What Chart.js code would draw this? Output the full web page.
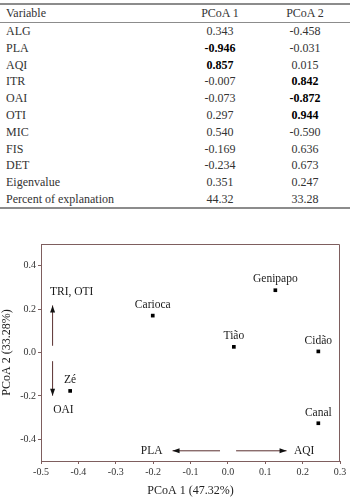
<!DOCTYPE html>
<html>
<head>
<meta charset="utf-8">
<script src="https://cdn.jsdelivr.net/npm/chart.js@4"></script>
<style>
  body { margin: 0; background: #fff; width: 350px; height: 498px; overflow: hidden; position: relative; }
  #tbl { position: absolute; left: 0; top: 0; width: 350px; font-family: "Liberation Serif", "Times New Roman", serif; font-size: 12px; color: #333; }
  .rule { position: absolute; left: 0; width: 350px; background: #8c8c8c; }
  .row { position: absolute; left: 0; width: 350px; height: 17px; line-height: 17px; }
  .row span { position: absolute; white-space: nowrap; }
  .c0 { left: 6px; }
  .c1 { left: 180px; width: 80px; text-align: center; }
  .c2 { left: 265px; width: 80px; text-align: center; }
  b { color: #000; }
  #wrap { position: absolute; left: 0; top: 230px; width: 350px; height: 268px; }
</style>
</head>
<body>
<div id="tbl"></div>
<div id="wrap"><canvas id="chart"></canvas></div>
<script>
// table data
const variables = ['ALG', 'PLA', 'AQI', 'ITR', 'OAI', 'OTI', 'MIC', 'FIS', 'DET', 'Eigenvalue', 'Percent of explanation'];
const pcoa1 = ['0.343', '-0.946', '0.857', '-0.007', '-0.073', '0.297', '0.540', '-0.169', '-0.234', '0.351', '44.32'];
const pcoa2 = ['-0.458', '-0.031', '0.015', '0.842', '-0.872', '0.944', '-0.590', '0.636', '0.673', '0.247', '33.28'];
const bold1 = [false, true, true, false, false, false, false, false, false, false, false];
const bold2 = [false, false, false, true, true, true, false, false, false, false, false];

// scatter data
const sites = ['Carioca', 'Genipapo', 'Tião', 'Cidão', 'Zé', 'Canal'];
const siteX = [-0.201, 0.127, 0.016, 0.242, -0.422, 0.242];
const siteY = [0.170, 0.287, 0.026, 0.005, -0.177, -0.326];

// arrows and their labels
const arrowLabels = ['TRI, OTI', 'OAI', 'PLA', 'AQI'];
const arrowFrom = [[-0.469, 0.031], [-0.469, -0.040], [-0.021, -0.453], [0.022, -0.453]];
const arrowTo = [[-0.469, 0.217], [-0.469, -0.199], [-0.148, -0.453], [0.157, -0.453]];
const labelAt = [[-0.418, 0.280], [-0.440, -0.264], [-0.204, -0.453], [0.204, -0.453]];

const xTicks = [-0.5, -0.4, -0.3, -0.2, -0.1, 0.0, 0.1, 0.2, 0.3];
const yTicks = [-0.4, -0.2, 0.0, 0.2, 0.4];

// build table
const tbl = document.getElementById('tbl');
function rule(top, h) {
  const d = document.createElement('div');
  d.className = 'rule';
  d.style.top = top + 'px';
  d.style.height = h + 'px';
  tbl.appendChild(d);
}
function row(top, a, b, c) {
  const d = document.createElement('div');
  d.className = 'row';
  d.style.top = top + 'px';
  d.innerHTML = '<span class="c0">' + a + '</span><span class="c1">' + b + '</span><span class="c2">' + c + '</span>';
  tbl.appendChild(d);
}
rule(3, 2);
row(5, 'Variable', 'PCoA 1', 'PCoA 2');
rule(22, 1);
variables.forEach((v, i) => {
  const a = bold1[i] ? '<b>' + pcoa1[i] + '</b>' : pcoa1[i];
  const b = bold2[i] ? '<b>' + pcoa2[i] + '</b>' : pcoa2[i];
  row(23 + i * 16.8, v, a, b);
});
rule(207, 2);

const serif = '"Liberation Serif", "Times New Roman", serif';
const frame = '#7e5e5e';

const annot = {
  id: 'annot',
  afterDatasetsDraw(chart) {
    const { ctx, scales: { x, y } } = chart;
    ctx.save();
    ctx.font = '11.5px ' + serif;
    ctx.fillStyle = '#1a1a1a';
    ctx.textAlign = 'center';
    ctx.textBaseline = 'bottom';
    sites.forEach((s, i) => {
      ctx.fillText(s, x.getPixelForValue(siteX[i]), y.getPixelForValue(siteY[i]) - 5);
    });
    // arrows
    arrowFrom.forEach((f, i) => {
      const x1 = x.getPixelForValue(f[0]), y1 = y.getPixelForValue(f[1]);
      const x2 = x.getPixelForValue(arrowTo[i][0]), y2 = y.getPixelForValue(arrowTo[i][1]);
      ctx.strokeStyle = '#5a3030';
      ctx.lineWidth = 1;
      ctx.beginPath();
      ctx.moveTo(x1, y1);
      ctx.lineTo(x2, y2);
      ctx.stroke();
      const ang = Math.atan2(y2 - y1, x2 - x1);
      ctx.fillStyle = '#111';
      ctx.beginPath();
      ctx.moveTo(x2, y2);
      ctx.lineTo(x2 - 7 * Math.cos(ang) + 2.5 * Math.sin(ang), y2 - 7 * Math.sin(ang) - 2.5 * Math.cos(ang));
      ctx.lineTo(x2 - 7 * Math.cos(ang) - 2.5 * Math.sin(ang), y2 - 7 * Math.sin(ang) + 2.5 * Math.cos(ang));
      ctx.closePath();
      ctx.fill();
    });
    ctx.fillStyle = '#1a1a1a';
    ctx.textBaseline = 'middle';
    arrowLabels.forEach((l, i) => {
      ctx.fillText(l, x.getPixelForValue(labelAt[i][0]), y.getPixelForValue(labelAt[i][1]));
    });
    ctx.restore();
  }
};

const ctx = document.getElementById('chart').getContext('2d');
const chart = new Chart(ctx, {
  type: 'scatter',
  data: {
    datasets: [{
      label: 'Sites',
      data: sites.map((s, i) => ({ x: siteX[i], y: siteY[i] })),
      pointStyle: 'rect',
      pointRadius: 2.6,
      backgroundColor: '#000',
      borderColor: '#000',
      borderWidth: 0
    }]
  },
  options: {
    responsive: true,
    maintainAspectRatio: false,
    animation: false,
    layout: { padding: { top: 14, right: 10, left: 0, bottom: 0 } },
    plugins: { legend: { display: false }, tooltip: { enabled: false } },
    scales: {
      x: {
        min: -0.5, max: 0.3,
        afterBuildTicks: s => { s.ticks = xTicks.map(v => ({ value: v })); },
        afterFit: s => { s.height = 37; },
        grid: { display: true, drawOnChartArea: false, drawTicks: true, tickLength: 3, color: frame },
        border: { color: frame, width: 1 },
        ticks: {
          font: { family: serif, size: 10 }, color: '#333', padding: 2,
          maxRotation: 0, autoSkip: false,
          callback: v => v.toFixed(1)
        },
        title: { display: true, text: 'PCoA 1 (47.32%)', font: { family: serif, size: 12 }, color: '#222', padding: { top: 3, bottom: 0 } }
      },
      y: {
        min: -0.5, max: 0.5,
        afterBuildTicks: s => { s.ticks = yTicks.map(v => ({ value: v })); },
        afterFit: s => { s.width = 41; },
        grid: { display: true, drawOnChartArea: false, drawTicks: true, tickLength: 3, color: frame },
        border: { color: frame, width: 1 },
        ticks: {
          font: { family: serif, size: 10 }, color: '#333', padding: 2,
          callback: v => v.toFixed(1)
        },
        title: { display: true, text: 'PCoA 2 (33.28%)', font: { family: serif, size: 12 }, color: '#222', padding: { top: 0, bottom: 2 } }
      }
    }
  },
  plugins: [annot, {
    id: 'box',
    afterDraw(c) {
      const a = c.chartArea;
      c.ctx.save();
      c.ctx.strokeStyle = frame;
      c.ctx.lineWidth = 1;
      c.ctx.beginPath();
      c.ctx.moveTo(a.left, a.top + 0.5);
      c.ctx.lineTo(a.right - 0.5, a.top + 0.5);
      c.ctx.lineTo(a.right - 0.5, a.bottom);
      c.ctx.stroke();
      c.ctx.restore();
    }
  }]
});
</script>
</body>
</html>
